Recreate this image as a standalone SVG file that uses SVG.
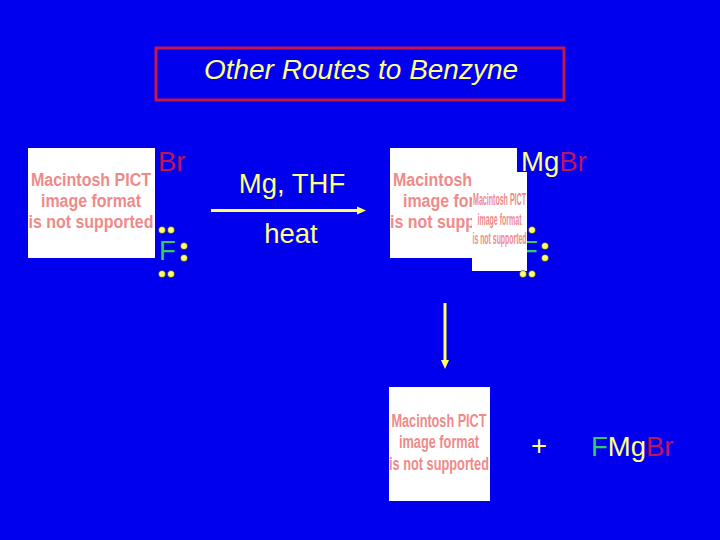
<svg xmlns="http://www.w3.org/2000/svg" width="720" height="540" viewBox="0 0 720 540">
<style>
text{font-family:"Liberation Sans",Arial,sans-serif}
.y{fill:#ffff80;font-size:27.500px}
.t{fill:#ffff80;font-size:28px;font-style:italic}
.o{fill:#ffff80}
.r{fill:#bd1659}
.g{fill:#33cc66}
.f{font-size:27.500px}
.m{fill:#ef8a8a;font-weight:bold;font-size:18px}
.s{fill:#ef8a8a;font-weight:bold;font-size:17px}
.i{fill:#fff}
.d{fill:#ffff66;stroke:#000033;stroke-width:.5}
.l{stroke:#ffff66;stroke-width:3;fill:none}
.h{fill:#ffff66}
</style>
<defs>
<clipPath id="c2"><rect x="390" y="148" width="82" height="110"/></clipPath>
</defs>
<rect width="720" height="540" fill="#0000ee"/>
<g id="title">
<rect x="156" y="48" width="408" height="52" fill="none" stroke="#c4184c" stroke-width="3"/>
<text class="t" x="361" y="79" text-anchor="middle" textLength="314" lengthAdjust="spacingAndGlyphs">Other Routes to Benzyne</text>
</g>
<g id="reactant">
<rect class="i" x="28" y="148" width="127" height="110"/>
<text class="m" x="91" y="186" text-anchor="middle" textLength="120" lengthAdjust="spacingAndGlyphs">Macintosh PICT</text>
<text class="m" x="91" y="207" text-anchor="middle" textLength="100" lengthAdjust="spacingAndGlyphs">image format</text>
<text class="m" x="91" y="228" text-anchor="middle" textLength="125" lengthAdjust="spacingAndGlyphs">is not supported</text>
<text class="r f" x="158" y="171">Br</text>
<text class="g f" x="159" y="260">F</text>
<circle class="d" cx="162" cy="230" r="3.500"/><circle class="d" cx="171" cy="230" r="3.500"/>
<circle class="d" cx="184" cy="246" r="3.500"/><circle class="d" cx="184" cy="258" r="3.500"/>
<circle class="d" cx="162" cy="274" r="3.500"/><circle class="d" cx="171" cy="274" r="3.500"/>
</g>
<g id="conditions">
<text class="y" x="292" y="193" text-anchor="middle">Mg, THF</text>
<text class="y" x="291" y="243" text-anchor="middle">heat</text>
</g>
<g id="grignard">
<rect class="i" x="390" y="148" width="127" height="110"/>
<g clip-path="url(#c2)">
<text class="m" x="393" y="186" textLength="120" lengthAdjust="spacingAndGlyphs">Macintosh PICT</text>
<text class="m" x="403" y="207" textLength="100" lengthAdjust="spacingAndGlyphs">image format</text>
<text class="m" x="390" y="228" textLength="125" lengthAdjust="spacingAndGlyphs">is not supported</text>
</g>
<text class="f" x="521" y="171"><tspan class="o">Mg</tspan><tspan class="r">Br</tspan></text>
<text class="g f" x="521" y="260">F</text>
<circle class="d" cx="523" cy="230" r="3.500"/><circle class="d" cx="532" cy="230" r="3.500"/>
<circle class="d" cx="545" cy="246" r="3.500"/><circle class="d" cx="545" cy="258" r="3.500"/>
<rect class="i" x="472" y="172" width="55" height="99"/>
<text class="s" x="499.500" y="205" text-anchor="middle" textLength="53" lengthAdjust="spacingAndGlyphs">Macintosh PICT</text>
<text class="s" x="499.500" y="225" text-anchor="middle" textLength="44" lengthAdjust="spacingAndGlyphs">image format</text>
<text class="s" x="499.500" y="244" text-anchor="middle" textLength="54" lengthAdjust="spacingAndGlyphs">is not supported</text>
<circle class="d" cx="523" cy="274" r="3.500"/><circle class="d" cx="532" cy="274" r="3.500"/>
</g>
<g id="benzyne">
<rect class="i" x="389" y="387" width="101" height="114"/>
<text class="m" x="439" y="427" text-anchor="middle" textLength="95" lengthAdjust="spacingAndGlyphs">Macintosh PICT</text>
<text class="m" x="439" y="448" text-anchor="middle" textLength="80" lengthAdjust="spacingAndGlyphs">image format</text>
<text class="m" x="439" y="470" text-anchor="middle" textLength="100" lengthAdjust="spacingAndGlyphs">is not supported</text>
</g>
<g id="byproduct">
<text class="y" x="539" y="455" text-anchor="middle">+</text>
<text class="f" x="591" y="456"><tspan class="g">F</tspan><tspan class="o">Mg</tspan><tspan class="r">Br</tspan></text>
</g>
<g id="connectors">
<line class="l" x1="211" y1="210.500" x2="359" y2="210.500"/>
<polygon class="h" points="357,206.500 366,210.500 357,214.500"/>
<line class="l" x1="445" y1="303" x2="445" y2="362"/>
<polygon class="h" points="441,360 449,360 445,369"/>
</g>
</svg>
